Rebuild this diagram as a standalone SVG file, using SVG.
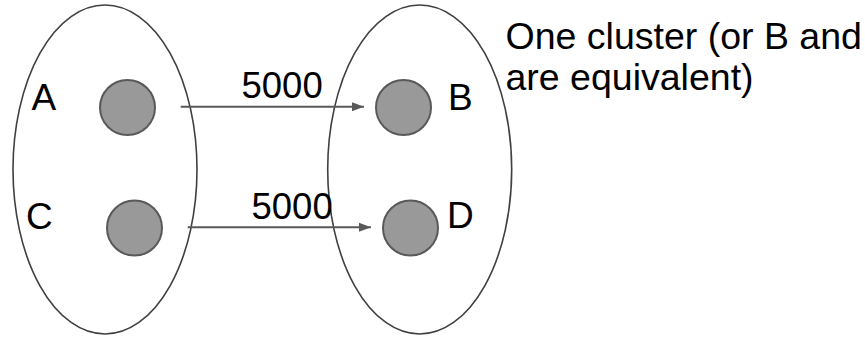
<svg xmlns="http://www.w3.org/2000/svg" width="865" height="338" viewBox="0 0 865 338">
<style>
.cluster{fill:none;stroke:#404040;stroke-width:1.6}
.node{fill:#999999;stroke:#595959;stroke-width:2}
.lbl{font-family:"Liberation Sans",Arial,sans-serif;font-size:37px;fill:#000}
.num{font-size:36.5px}
.big{font-size:37.5px}
.edge{stroke:#595959;stroke-width:2;fill:none;marker-end:url(#ah)}
</style>
<defs>
<marker id="ah" markerWidth="12" markerHeight="10" refX="12" refY="5" orient="auto" markerUnits="userSpaceOnUse">
<path d="M0,0.5 L12,5 L0,9.5 Z" fill="#595959"/>
</marker>
</defs>
<rect width="865" height="338" fill="#fff"/>
<g id="clusterLeft"><ellipse class="cluster" cx="105" cy="169.5" rx="92" ry="164.5"/></g>
<g id="clusterRight"><ellipse class="cluster" cx="419.7" cy="169.5" rx="92" ry="164.5"/></g>
<g id="nodeA"><circle class="node" cx="127.5" cy="107.5" r="27.5"/><text class="lbl" x="31.5" y="109.5">A</text></g>
<g id="nodeC"><circle class="node" cx="134.5" cy="228" r="27.5"/><text class="lbl" x="26" y="228.5">C</text></g>
<g id="nodeB"><circle class="node" cx="403.5" cy="107.5" r="27.5"/><text class="lbl" x="448" y="110">B</text></g>
<g id="nodeD"><circle class="node" cx="410.5" cy="228" r="27.5"/><text class="lbl" x="447" y="227.5">D</text></g>
<g id="connectors">
<line class="edge" x1="180.7" y1="106.7" x2="364" y2="106.7"/>
<text class="lbl num" x="241.5" y="98">5000</text>
<line class="edge" x1="187.7" y1="227.3" x2="371" y2="227.3"/>
<text class="lbl num" x="251.5" y="218.5">5000</text>
</g>
<g id="note">
<text class="lbl big" x="505.5" y="49">One cluster (or B and</text>
<text class="lbl big" x="505.5" y="90">are equivalent)</text>
</g>
</svg>
